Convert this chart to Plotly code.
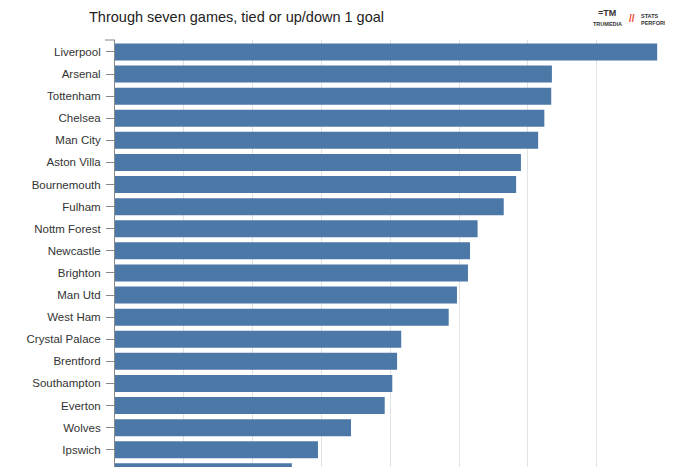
import plotly.graph_objects as go

teams = ["Liverpool", "Arsenal", "Tottenham", "Chelsea", "Man City", "Aston Villa",
         "Bournemouth", "Fulham", "Nottm Forest", "Newcastle", "Brighton", "Man Utd",
         "West Ham", "Crystal Palace", "Brentford", "Southampton", "Everton", "Wolves",
         "Ipswich", "Leicester"]
values = [78.8, 63.5, 63.4, 62.4, 61.5, 59.0, 58.3, 56.5, 52.7, 51.6, 51.3, 49.7,
          48.5, 41.6, 41.0, 40.3, 39.2, 34.3, 29.5, 25.7]

subtitle = "Through seven games, tied or up/down 1 goal"

# page body adds an 8px offset; figure coordinates = screen coordinates - 8
OFF = 8
W, H = 673 - OFF, 467 - OFF
L, R, T, B = 115 - OFF, 0, 40 - OFF, 0
pw = W - L - R
ph = H - T - B


def px(x):
    return (x - OFF - L) / pw


def py(y):
    return 1 + (T - (y - OFF)) / ph


fig = go.Figure()
fig.add_trace(go.Bar(
    x=values, y=teams, orientation="h",
    marker=dict(color="#4c78a8", line=dict(width=0)),
    hoverinfo="skip",
))

fig.update_layout(
    width=W, height=H,
    margin=dict(l=L, r=R, t=T, b=B, pad=0, autoexpand=False),
    paper_bgcolor="white", plot_bgcolor="white",
    bargap=0.23,
    showlegend=False,
    font=dict(family="Liberation Sans, Arial, sans-serif", size=11.5, color="#333333"),
)
fig.update_xaxes(
    range=[0, 81.1], dtick=10, tick0=0, automargin=False,
    showgrid=True, gridcolor="#e2e2e2", gridwidth=1,
    showticklabels=False, zeroline=False, showline=False, ticks="",
)
fig.update_yaxes(
    type="category", categoryorder="array", categoryarray=teams,
    range=[18.78, -0.54], automargin=False,
    showgrid=False, zeroline=False,
    showline=True, linecolor="#888888", linewidth=1,
    ticks="outside", ticklen=8, tickcolor="#888888", tickwidth=1,
    ticklabelstandoff=3,
)

# axis domain cap at top
fig.add_shape(type="line", xref="paper", yref="paper",
              x0=-10 / pw, x1=0, y0=1, y1=1,
              line=dict(color="#888888", width=1))

# subtitle
fig.add_annotation(text=subtitle, xref="paper", yref="paper",
                   x=px(87), y=py(17),
                   xanchor="left", yanchor="middle", showarrow=False,
                   font=dict(family="Liberation Sans, Arial, sans-serif",
                             size=14.5, color="#222222"))

# logos (as text)
fig.add_annotation(text="<b>=TM</b>", xref="paper", yref="paper",
                   x=px(607), y=py(13),
                   xanchor="center", yanchor="middle", showarrow=False,
                   font=dict(family="Liberation Sans, sans-serif", size=9, color="#333333"))
fig.add_annotation(text="<b>TRUMEDIA</b>", xref="paper", yref="paper",
                   x=px(607), y=py(24),
                   xanchor="center", yanchor="middle", showarrow=False,
                   font=dict(family="Liberation Sans, sans-serif", size=5.5, color="#333333"))
fig.add_annotation(text="<b>//</b>", xref="paper", yref="paper",
                   x=px(632), y=py(19),
                   xanchor="center", yanchor="middle", showarrow=False,
                   font=dict(family="Liberation Sans, sans-serif", size=10, color="#e8452c"))
fig.add_annotation(text="<b>STATS<br>PERFORM</b>", xref="paper", yref="paper",
                   x=px(671), y=py(20),
                   xanchor="right", yanchor="middle", showarrow=False, align="left",
                   font=dict(family="Liberation Sans, sans-serif",
                             size=5.5, color="#333333"))

fig.write_html("out.html")
